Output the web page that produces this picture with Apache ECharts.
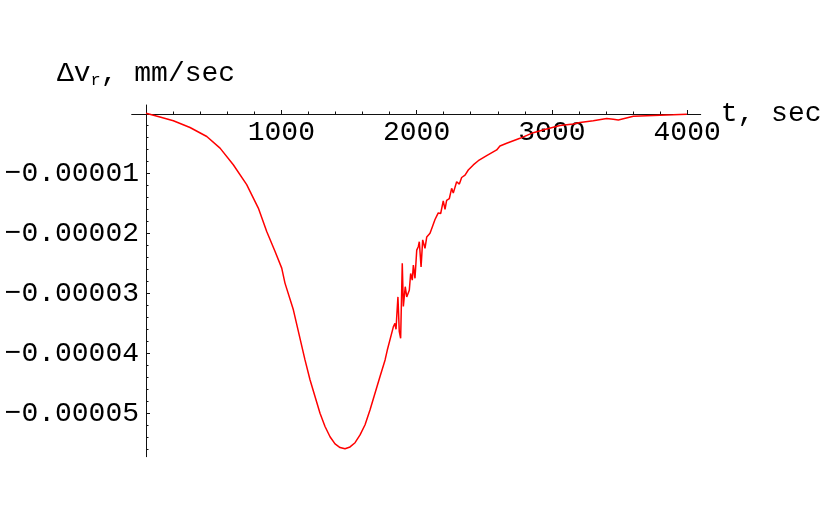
<!DOCTYPE html>
<html>
<head>
<meta charset="utf-8">
<script src="https://cdn.jsdelivr.net/npm/echarts@6/dist/echarts.min.js"></script>
<style>
  html, body { margin: 0; padding: 0; background: #fff; }
  #main { width: 830px; height: 513px; }
</style>
</head>
<body>
<div id="main"></div>
<script>
// t, sec
var tValues = [0, 103, 202, 325, 449, 547, 645, 744, 830, 892, 953, 1003, 1027, 1089,
  1175, 1212, 1249, 1286, 1323, 1360, 1397, 1434, 1471, 1508, 1545, 1582, 1619, 1656, 1693, 1729, 1767, 1783,
  1828, 1840, 1848, 1853, 1862, 1872, 1882, 1894, 1902, 1916, 1927, 1946, 1956, 1968, 1976, 1988, 2001, 2013, 2020,
  2033, 2045, 2062, 2075, 2099, 2112, 2136, 2160, 2178, 2197, 2210, 2222, 2242, 2259, 2271, 2296, 2316, 2333, 2358,
  2382, 2419, 2456, 2518, 2592, 2616, 2666, 2764, 2862, 2961, 3060, 3158, 3208, 3306, 3405, 3454, 3491, 3602, 3701,
  3799, 3897, 3998];
// delta v_r, mm/sec
var dvValues = [0, -0.063e-5, -0.125e-5, -0.237e-5, -0.387e-5, -0.58e-5, -0.858e-5, -1.19e-5, -1.58e-5, -1.97e-5,
  -2.30e-5, -2.58e-5, -2.83e-5, -3.275e-5,
  -4.11e-5, -4.44e-5, -4.72e-5, -5.0e-5, -5.22e-5, -5.39e-5, -5.51e-5, -5.57e-5, -5.59e-5, -5.56e-5, -5.49e-5,
  -5.36e-5, -5.19e-5, -4.94e-5, -4.66e-5, -4.39e-5, -4.11e-5, -3.95e-5,
  -3.56e-5, -3.5e-5, -3.6e-5, -3.39e-5, -3.06e-5, -3.64e-5, -3.75e-5, -2.5e-5, -3.22e-5, -2.89e-5, -3.06e-5,
  -2.95e-5, -2.67e-5, -2.78e-5, -2.53e-5, -2.75e-5, -2.28e-5, -2.22e-5, -2.14e-5,
  -2.56e-5, -2.11e-5, -2.25e-5, -2.06e-5, -2.0e-5, -1.92e-5, -1.77e-5, -1.66e-5, -1.67e-5, -1.46e-5, -1.6e-5,
  -1.45e-5, -1.42e-5, -1.25e-5, -1.33e-5, -1.14e-5, -1.18e-5, -1.07e-5, -1.03e-5,
  -0.945e-5, -0.86e-5, -0.79e-5, -0.707e-5, -0.61e-5, -0.545e-5, -0.5e-5, -0.417e-5, -0.323e-5, -0.262e-5,
  -0.203e-5, -0.178e-5, -0.153e-5, -0.123e-5, -0.087e-5, -0.1e-5, -0.112e-5, -0.05e-5, -0.04e-5,
  -0.032e-5, -0.025e-5, -0.015e-5];

var xTicks = [1000, 2000, 3000, 4000];
var yTicks = [-0.00005, -0.00004, -0.00003, -0.00002, -0.00001];

// minor ticks (Mathematica style, 4 between majors)
var xMinor = [];
for (var i = 1; i <= 20; i++) { if (i % 5) xMinor.push(i * 200); }
var yMinor = [];
for (var j = 1; j <= 28; j++) { if (j % 5) yMinor.push(-j * 2e-6); }

var FONT = '"Liberation Mono", "Courier New", monospace';
var axisColor = '#111';

// grid box in px, axes cross at (0,0) inside it
var G = { left: 131.7, right: 129.3, top: 105, bottom: 56.3 };
var X_OFF = -(456.7 - 114);   // x axis moved up from grid bottom to v = 0
var Y_OFF = -(146 - 131.7);   // y axis moved right from grid left to t = 0

var chart = echarts.init(document.getElementById('main'));

var data = tValues.map(function (t, k) { return [t, dvValues[k]]; });

var xBase = {
  type: 'value', min: -106, max: 4100, position: 'bottom', offset: X_OFF,
  splitLine: { show: false }
};
var yBase = {
  type: 'value', min: -5.723e-5, max: 1.383e-6, position: 'left', offset: Y_OFF,
  splitLine: { show: false }
};

chart.setOption({
  animation: false,
  backgroundColor: '#fff',
  grid: {
    left: G.left, right: G.right, top: G.top, bottom: G.bottom,
    containLabel: false, outerBoundsMode: 'none'
  },
  xAxis: [Object.assign({}, xBase, {
    name: 't, sec',
    nameLocation: 'end',
    nameGap: 20,
    nameMoveOverlap: false,
    nameTextStyle: { fontFamily: FONT, fontSize: 28, color: '#000' },
    axisLine: { onZero: false, lineStyle: { color: axisColor, width: 1 } },
    axisTick: { inside: true, length: 4, customValues: xTicks, lineStyle: { color: axisColor } },
    axisLabel: {
      customValues: xTicks,
      margin: 5,
      fontFamily: FONT, fontSize: 28, color: '#000',
      formatter: function (v) { return String(v); }
    }
  }), Object.assign({}, xBase, {
    axisLine: { onZero: false, lineStyle: { color: axisColor, opacity: 0 } },
    axisTick: { inside: true, length: 2.5, customValues: xMinor, lineStyle: { color: axisColor } },
    axisLabel: { show: false }
  })],
  yAxis: [Object.assign({}, yBase, {
    name: '{a|Δv}{b|r}{a|, mm/sec}',
    nameLocation: 'end',
    nameGap: 16,
    nameMoveOverlap: false,
    nameTextStyle: {
      align: 'center',
      verticalAlign: 'bottom',
      rich: {
        a: { fontFamily: FONT, fontSize: 28, color: '#000', lineHeight: 30 },
        b: { fontFamily: FONT, fontSize: 17, color: '#000', lineHeight: 10, verticalAlign: 'bottom' }
      }
    },
    axisLine: { onZero: false, lineStyle: { color: axisColor, width: 1 } },
    axisTick: { inside: true, length: 4, customValues: yTicks, lineStyle: { color: axisColor } },
    axisLabel: {
      customValues: yTicks,
      margin: 7,
      fontFamily: FONT, fontSize: 28, color: '#000',
      formatter: function (v) { return v.toFixed(5).replace('-', '\u2212'); }
    }
  }), Object.assign({}, yBase, {
    axisLine: { onZero: false, lineStyle: { color: axisColor, opacity: 0 } },
    axisTick: { inside: true, length: 2.5, customValues: yMinor, lineStyle: { color: axisColor } },
    axisLabel: { show: false }
  })],
  series: [{
    type: 'line',
    xAxisIndex: 0,
    yAxisIndex: 0,
    data: data,
    showSymbol: false,
    smooth: false,
    lineStyle: { color: '#ff0000', width: 1.5 },
    emphasis: { disabled: true }
  }]
});
</script>
</body>
</html>
